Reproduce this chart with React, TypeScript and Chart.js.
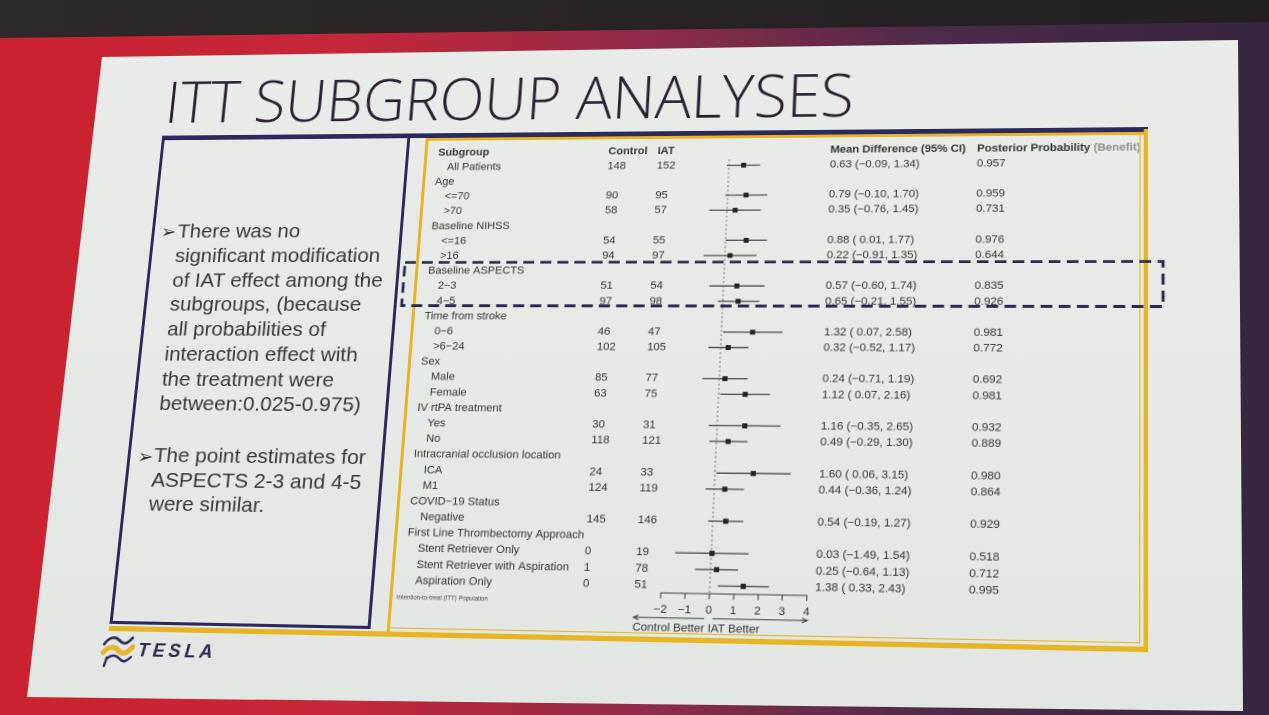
import React, { useEffect, useLayoutEffect, useRef, useState } from 'react';
import { Chart, registerables } from 'chart.js';

Chart.register(...registerables);

const FAMILY = '"Liberation Sans", Arial, Helvetica, sans-serif';

// ---------------- data ----------------
const columnHeaders = ['Subgroup', 'Control', 'IAT', 'Mean Difference (95% CI)', 'Posterior Probability (Benefit)'];
const subgroups = [
  'All Patients', 'Age', '<=70', '>70', 'Baseline NIHSS', '<=16', '>16',
  'Baseline ASPECTS', '2\u22123', '4\u22125', 'Time from stroke', '0\u22126', '>6\u221224',
  'Sex', 'Male', 'Female', 'IV rtPA treatment', 'Yes', 'No',
  'Intracranial occlusion location', 'ICA', 'M1', 'COVID\u221219 Status', 'Negative',
  'First Line Thrombectomy Approach', 'Stent Retriever Only', 'Stent Retriever with Aspiration', 'Aspiration Only',
];
const isGroupRow = [
  false, true, false, false, true, false, false,
  true, false, false, true, false, false,
  true, false, false, true, false, false,
  true, false, false, true, false,
  true, false, false, false,
];
const controlN = [148, null, 90, 58, null, 54, 94, null, 51, 97, null, 46, 102, null, 85, 63, null, 30, 118, null, 24, 124, null, 145, null, 0, 1, 0];
const iatN = [152, null, 95, 57, null, 55, 97, null, 54, 98, null, 47, 105, null, 77, 75, null, 31, 121, null, 33, 119, null, 146, null, 19, 78, 51];
const meanDiff = [0.63, null, 0.79, 0.35, null, 0.88, 0.22, null, 0.57, 0.65, null, 1.32, 0.32, null, 0.24, 1.12, null, 1.16, 0.49, null, 1.60, 0.44, null, 0.54, null, 0.03, 0.25, 1.38];
const ciLow = [-0.09, null, -0.10, -0.76, null, 0.01, -0.91, null, -0.60, -0.21, null, 0.07, -0.52, null, -0.71, 0.07, null, -0.35, -0.29, null, 0.06, -0.36, null, -0.19, null, -1.49, -0.64, 0.33];
const ciHigh = [1.34, null, 1.70, 1.45, null, 1.77, 1.35, null, 1.74, 1.55, null, 2.58, 1.17, null, 1.19, 2.16, null, 2.65, 1.30, null, 3.15, 1.24, null, 1.27, null, 1.54, 1.13, 2.43];
const posterior = [0.957, null, 0.959, 0.731, null, 0.976, 0.644, null, 0.835, 0.926, null, 0.981, 0.772, null, 0.692, 0.981, null, 0.932, 0.889, null, 0.980, 0.864, null, 0.929, null, 0.518, 0.712, 0.995];
const xTicks = [-2, -1, 0, 1, 2, 3, 4];
const footnote = 'Intention-to-treat (ITT) Population';
const directionLabels = ['Control Better', 'IAT Better'];

const slideTitle = 'ITT SUBGROUP ANALYSES';
const bullet1 = ['There was no', 'significant modification', 'of IAT effect among the', 'subgroups, (because', 'all probabilities of', 'interaction effect with', 'the treatment were', 'between:0.025-0.975)'];
const bullet2 = ['The point estimates for', 'ASPECTS 2-3 and 4-5', 'were similar.'];

// ---------------- layout (flat slide coordinates) ----------------
const CANVAS = { left: 420, top: 140, width: 720, height: 500 };
const COL = { header: 31, group: 30, item: 41, control: 203.3, iat: 252.5, md: 423, post: 565.2, foot: 24 };
const NAVY = '#2c2a5c';
const GOLD = '#e7b424';
const INK = '#353535';

// homography: flat frame -> photographed frame
function solveHomography(src: number[][], dst: number[][]) {
  const A: number[][] = [];
  const b: number[] = [];
  for (let i = 0; i < 4; i++) {
    const [x, y] = src[i];
    const [X, Y] = dst[i];
    A.push([x, y, 1, 0, 0, 0, -X * x, -X * y]); b.push(X);
    A.push([0, 0, 0, x, y, 1, -Y * x, -Y * y]); b.push(Y);
  }
  const n = 8;
  for (let c = 0; c < n; c++) {
    let p = c;
    for (let r = c + 1; r < n; r++) if (Math.abs(A[r][c]) > Math.abs(A[p][c])) p = r;
    [A[c], A[p]] = [A[p], A[c]];
    [b[c], b[p]] = [b[p], b[c]];
    for (let r = 0; r < n; r++) {
      if (r === c) continue;
      const f = A[r][c] / A[c][c];
      for (let k = c; k < n; k++) A[r][k] -= f * A[c][k];
      b[r] -= f * b[c];
    }
  }
  return b.map((v, i) => v / A[i][i]);
}
const H = solveHomography(
  [[163, 133], [1146, 133], [1146, 640], [163, 640]],
  [[163, 137.5], [1146, 129], [1146, 649], [110, 628]],
);
const MATRIX = `matrix3d(${H[0]},${H[3]},0,${H[6]},${H[1]},${H[4]},0,${H[7]},0,0,1,0,${H[2]},${H[5]},0,1)`;

const fmt2 = (v: number) => (v < 0 ? '\u2212' + Math.abs(v).toFixed(2) : v.toFixed(2));
const fmtLow = (v: number) => (v < 0 ? fmt2(v) : ' ' + v.toFixed(2));

const tablePlugin = {
  id: 'forestTable',
  afterDraw(chart: any) {
    const { ctx, scales } = chart;
    const x = scales.x;
    const y = scales.y;
    ctx.save();
    ctx.textBaseline = 'middle';
    ctx.textAlign = 'left';
    ctx.fillStyle = INK;
    ctx.font = `bold 11px ${FAMILY}`;
    const y0 = y.getPixelForValue(0);
    ctx.fillText(columnHeaders[0], COL.header, y0);
    ctx.fillText(columnHeaders[1], COL.control, y0);
    ctx.fillText(columnHeaders[2], COL.iat, y0);
    ctx.fillText(columnHeaders[3], COL.md, y0);
    const ph = columnHeaders[4];
    const cut = ph.indexOf('(');
    const p1 = ph.slice(0, cut);
    ctx.fillText(p1, COL.post, y0);
    const w1 = ctx.measureText(p1).width;
    ctx.fillStyle = '#8d908d';
    ctx.fillText(ph.slice(cut), COL.post + w1, y0);

    ctx.fillStyle = INK;
    ctx.font = `11px ${FAMILY}`;
    subgroups.forEach((label, i) => {
      const yy = y.getPixelForValue(i + 1);
      ctx.fillText(label, isGroupRow[i] ? COL.group : COL.item, yy);
      if (controlN[i] != null) ctx.fillText(String(controlN[i]), COL.control, yy);
      if (iatN[i] != null) ctx.fillText(String(iatN[i]), COL.iat, yy);
      const m = meanDiff[i];
      const lo = ciLow[i];
      const hi = ciHigh[i];
      if (m != null && lo != null && hi != null) {
        ctx.fillText(`${fmt2(m)} (${fmtLow(lo)}, ${fmt2(hi)})`, COL.md, yy);
      }
      const pp = posterior[i];
      if (pp != null) ctx.fillText(pp.toFixed(3), COL.post, yy);
    });

    ctx.fillStyle = '#444';
    ctx.font = `6px ${FAMILY}`;
    ctx.fillText(footnote, COL.foot, y.getPixelForValue(29.05));

    // direction arrows
    const base = chart.chartArea.bottom;
    const ay = base + 23.6;
    const ly = base + 33.1;
    ctx.strokeStyle = '#474747';
    ctx.lineWidth = 1;
    const arrow = (v0: number, v1: number) => {
      const a = x.getPixelForValue(v0);
      const b = x.getPixelForValue(v1);
      const dir = Math.sign(b - a);
      ctx.beginPath();
      ctx.moveTo(a, ay);
      ctx.lineTo(b, ay);
      ctx.moveTo(b - dir * 5, ay - 2.2);
      ctx.lineTo(b, ay);
      ctx.lineTo(b - dir * 5, ay + 2.2);
      ctx.stroke();
    };
    arrow(-0.17, -3.1);
    arrow(0.17, 4.05);
    ctx.fillStyle = INK;
    ctx.font = `11px ${FAMILY}`;
    ctx.textAlign = 'center';
    ctx.fillText(directionLabels[0], x.getPixelForValue(-1.63), ly);
    ctx.fillText(directionLabels[1], x.getPixelForValue(1.05), ly);
    ctx.restore();
  },
};

function ForestChart() {
  const ref = useRef<HTMLCanvasElement>(null);
  useEffect(() => {
    if (!ref.current) return;
    const ciData: any[] = [];
    const ptData: any[] = [];
    subgroups.forEach((_, i) => {
      const m = meanDiff[i];
      if (m == null) return;
      ciData.push({ x: ciLow[i], y: i + 1 }, { x: ciHigh[i], y: i + 1 }, { x: ciHigh[i], y: null });
      ptData.push({ x: m, y: i + 1 });
    });
    const chart = new Chart(ref.current, {
      type: 'scatter',
      data: {
        datasets: [
          { data: ptData, pointStyle: 'rect', pointRadius: 3.5, backgroundColor: '#232323', borderWidth: 0 } as any,
          { data: ciData, showLine: true, spanGaps: false, borderColor: '#575757', borderWidth: 1.4, pointRadius: 0 } as any,
          { data: [{ x: 0, y: 0.6 }, { x: 0, y: 28.5 }], showLine: true, borderColor: '#7f7f7f', borderWidth: 1.1, borderDash: [2, 2.5], pointRadius: 0 } as any,
        ],
      },
      options: {
        animation: false,
        responsive: false,
        devicePixelRatio: 2,
        events: [],
        layout: { padding: { left: 278.2, right: 304.4, top: 3.6, bottom: 0 } },
        plugins: { legend: { display: false }, tooltip: { enabled: false } },
        scales: {
          x: {
            type: 'linear',
            min: -2,
            max: 4,
            position: 'bottom',
            afterBuildTicks: (s: any) => { s.ticks = xTicks.map((value) => ({ value })); },
            afterFit: (s: any) => { s.height = 43.8; },
            grid: { drawOnChartArea: false, drawTicks: true, tickLength: 5, color: '#444', lineWidth: 1 },
            border: { display: true, color: '#444', width: 1 },
            ticks: {
              color: INK,
              font: { size: 11, family: FAMILY },
              padding: 4,
              maxRotation: 0,
              autoSkip: false,
              callback: (v: any) => (Number(v) < 0 ? '\u2212' + Math.abs(Number(v)) : String(v)),
            },
          },
          y: { type: 'linear', min: -0.5, max: 28.5, reverse: true, display: false },
        },
      } as any,
      plugins: [tablePlugin],
    });
    return () => chart.destroy();
  }, []);
  return (
    <canvas
      ref={ref}
      width={CANVAS.width}
      height={CANVAS.height}
      style={{ position: 'absolute', left: CANVAS.left, top: CANVAS.top, width: CANVAS.width, height: CANVAS.height }}
    />
  );
}

function Title() {
  const ref = useRef<HTMLSpanElement>(null);
  const [k, setK] = useState(1);
  useLayoutEffect(() => {
    const m = () => {
      if (ref.current) {
        const w = ref.current.offsetWidth;
        if (w) setK(702 / w);
      }
    };
    m();
    (document as any).fonts?.ready?.then(m);
  }, []);
  return (
    <span
      ref={ref}
      style={{
        position: 'absolute', left: 161.8, top: 60.6, fontFamily: '"Open Sans", "DejaVu Sans", sans-serif',
        fontWeight: 300, fontSize: 63, lineHeight: '63px', whiteSpace: 'nowrap', color: '#2a2232',
        transform: `scaleX(${k})`, transformOrigin: '0 0',
      }}
    >
      {slideTitle}
    </span>
  );
}

function Bullets() {
  const lineStyle = (yc: number, lh: number, left: number): React.CSSProperties => ({
    position: 'absolute', left, top: yc - lh / 2, height: lh, lineHeight: `${lh}px`,
    fontFamily: FAMILY, fontSize: 21, color: '#383838', whiteSpace: 'nowrap',
  });
  const arrowStyle = (yc: number, left: number): React.CSSProperties => ({
    position: 'absolute', left, top: yc - 13, height: 26, lineHeight: '26px',
    fontFamily: '"DejaVu Sans", sans-serif', fontSize: 19, color: '#333333',
  });
  return (
    <>
      <span style={arrowStyle(234.1, 171.5)}>{'\u27A2'}</span>
      {bullet1.map((t, i) => (
        <span key={'a' + i} style={lineStyle(234.1 + i * 25.75, 25.75, 189)}>{t}</span>
      ))}
      <span style={arrowStyle(467.6, 172.5)}>{'\u27A2'}</span>
      {bullet2.map((t, i) => (
        <span key={'b' + i} style={lineStyle(467.6 + i * 24.45, 24.45, 189)}>{t}</span>
      ))}
    </>
  );
}

function Frame() {
  const r = (left: number, top: number, width: number, height: number, bg: string): React.CSSProperties => ({
    position: 'absolute', left, top, width, height, background: bg,
  });
  return (
    <>
      <div style={r(161.5, 130.5, 986, 5, NAVY)} />
      <div style={r(161.5, 133, 3, 503, NAVY)} />
      <div style={r(418, 133, 3, 503, NAVY)} />
      <div style={r(161.5, 633, 259.5, 3, NAVY)} />
      <div style={r(436.5, 135.5, 710, 3, GOLD)} />
      <div style={r(436.5, 135.5, 3, 503, GOLD)} />
      <div style={r(1143.5, 133, 4, 509, GOLD)} />
      <div style={r(1139.8, 138, 1.5, 497, GOLD)} />
      <div style={r(161.5, 638, 986, 4.5, GOLD)} />
      <div style={r(439.5, 633.8, 701.8, 1.5, GOLD)} />
    </>
  );
}

function Logo() {
  return (
    <>
      <svg width={34} height={34} viewBox="0 0 34 34" style={{ position: 'absolute', left: 156, top: 645 }}>
        <path d="M3 11 C 8 3, 14 3, 18 7 S 26 11, 31 4" stroke="#2a2a52" strokeWidth={2.6} fill="none" strokeLinecap="round" />
        <path d="M3 19 C 8 12, 14 13, 18 17 S 26 20, 32 13" stroke="#e8b52a" strokeWidth={5} fill="none" strokeLinecap="round" />
        <path d="M7 25 C 11 21, 16 21, 20 25 S 27 27, 31 23" stroke="#2a2a52" strokeWidth={2.4} fill="none" strokeLinecap="round" />
        <path d="M7 24 L 5 32" stroke="#2a2a52" strokeWidth={2.4} fill="none" strokeLinecap="round" />
      </svg>
      <span
        style={{
          position: 'absolute', left: 193.5, top: 650, height: 22, lineHeight: '22px',
          fontFamily: FAMILY, fontSize: 18, fontWeight: 700, fontStyle: 'italic', letterSpacing: 3.8,
          color: '#29294d', whiteSpace: 'nowrap',
        }}
      >
        TESLA
      </span>
    </>
  );
}

export default function App() {
  return (
    <div
      style={{
        position: 'fixed', left: 0, top: 0, width: 1269, height: 715, overflow: 'hidden',
        background: 'linear-gradient(90deg, #cb2230 0%, #c4273a 28%, #8c2b48 52%, #4c2a4a 74%, #36263f 100%)',
      }}
    >
      <div
        style={{
          position: 'absolute', left: 0, top: 0, width: 1269, height: 40,
          clipPath: 'polygon(0 0, 100% 0, 100% 22px, 0 38px)',
          background: 'linear-gradient(90deg, #2f2828, #231e23)',
        }}
      />
      <div
        style={{
          position: 'absolute', left: 0, top: 0, width: 1269, height: 715,
          clipPath: 'polygon(102px 57px, 1238px 40px, 1243px 711px, 27px 697px)',
          background: 'linear-gradient(180deg, #e9ece9 0%, #e6eae6 60%, #e2e7e3 100%)',
        }}
      />
      <div
        style={{
          position: 'absolute', left: 0, top: 0, width: 1269, height: 715,
          transformOrigin: '0 0', transform: MATRIX,
        }}
      >
        <Title />
        <Frame />
        <Bullets />
        <ForestChart />
        <svg width={1269} height={715} style={{ position: 'absolute', left: 0, top: 0, pointerEvents: 'none' }}>
          <rect x={426} y={267.7} width={736} height={44.8} fill="none" stroke="#2b2a4d" strokeWidth={2.8} strokeDasharray="11 6" />
        </svg>
        <Logo />
      </div>
    </div>
  );
}
